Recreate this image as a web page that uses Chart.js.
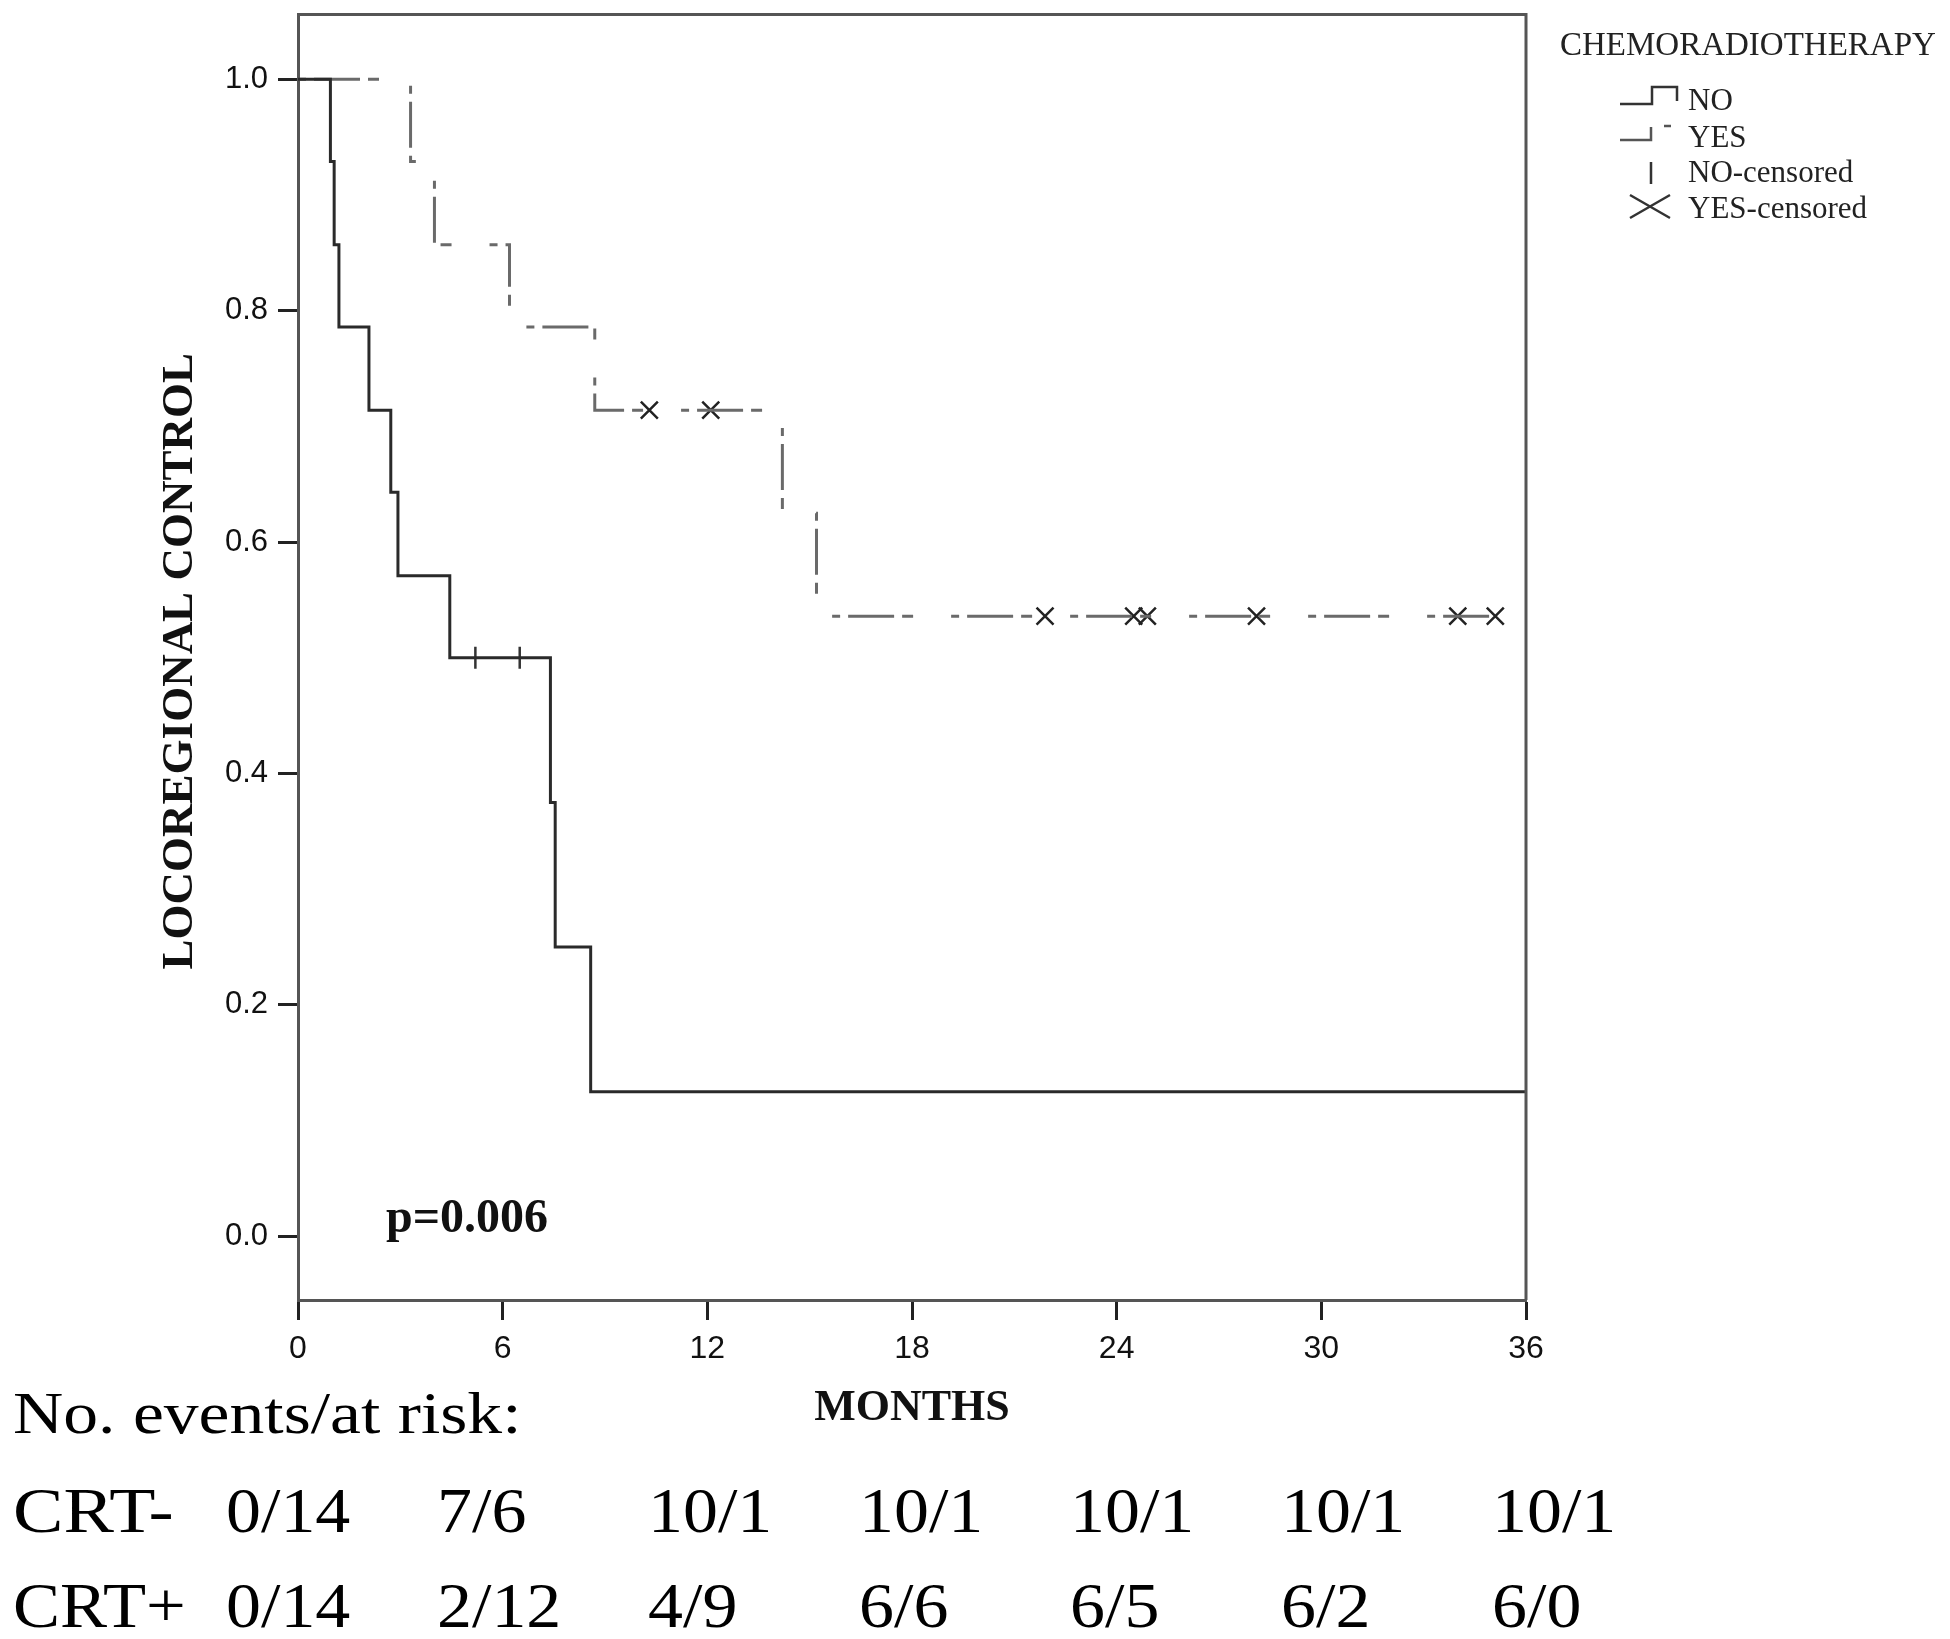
<!DOCTYPE html>
<html>
<head>
<meta charset="utf-8">
<script src="https://cdn.jsdelivr.net/npm/chart.js@4.4.1/dist/chart.umd.min.js"></script>
<style>
    body { margin: 0; background: #fff; }
    #wrap { width: 1950px; height: 1639px; }
</style>
</head>
<body>
<div id="wrap"><canvas id="km"></canvas></div>
<script>
// Kaplan-Meier curves (months / proportion)
const noTimes = [0, 0.95, 1.06, 1.2, 2.08, 2.72, 2.93, 4.45, 7.4, 7.54, 8.58, 36];
const noSurv = [1.0, 0.929, 0.857, 0.786, 0.714, 0.643, 0.571, 0.5, 0.375, 0.25, 0.125, 0.125];

const yesTimes = [0, 3.3, 4.0, 6.2, 8.7, 14.2, 15.2, 35.1];
const yesSurv = [1.0, 0.929, 0.857, 0.786, 0.714, 0.625, 0.536, 0.536];

const noCensTimes = [5.2, 6.5];
const noCensSurv = [0.5, 0.5];

const yesCensTimes = [10.3, 12.1, 21.9, 24.5, 24.9, 28.1, 34.0, 35.1];
const yesCensSurv = [0.714, 0.714, 0.536, 0.536, 0.536, 0.536, 0.536, 0.536];

const xTicks = [0, 6, 12, 18, 24, 30, 36];
const yTicks = [0, 0.2, 0.4, 0.6, 0.8, 1.0];

const riskRows = ["CRT-", "CRT+"];
const crtMinus = ["0/14", "7/6", "10/1", "10/1", "10/1", "10/1", "10/1"];
const crtPlus = ["0/14", "2/12", "4/9", "6/6", "6/5", "6/2", "6/0"];

const legendTitle = "CHEMORADIOTHERAPY";
const legendLabels = ["NO", "YES", "NO-censored", "YES-censored"];

const serif = "'Liberation Serif', 'Times New Roman', serif";
const sans = "'Liberation Sans', Arial, sans-serif";

function pts(xs, ys) {
    return xs.map((x, i) => ({ x: x, y: ys[i] }));
}

function wideText(ctx, text, x, y, sx) {
    ctx.save();
    ctx.translate(x, y);
    ctx.scale(sx, 1);
    ctx.fillText(text, 0, 0);
    ctx.restore();
}

function noPad(s) {
    s.paddingTop = 0;
    s.paddingBottom = 0;
    s.paddingLeft = 0;
    s.paddingRight = 0;
}

const extras = {
    id: "extras",
    afterDraw(chart) {
        const ctx = chart.ctx;
        const a = chart.chartArea;
        ctx.save();

        // top and right of the frame
        ctx.strokeStyle = "#555";
        ctx.lineWidth = 3;
        ctx.beginPath();
        ctx.moveTo(a.left, a.top);
        ctx.lineTo(a.right, a.top);
        ctx.lineTo(a.right, a.bottom);
        ctx.stroke();

        ctx.fillStyle = "#111";
        ctx.textBaseline = "alphabetic";

        // axis titles
        ctx.font = "bold 44px " + serif;
        ctx.textAlign = "center";
        ctx.fillText("MONTHS", (a.left + a.right) / 2, 1420);
        ctx.save();
        ctx.font = "bold 45px " + serif;
        ctx.translate(192, (a.top + a.bottom) / 2 + 4);
        ctx.rotate(-Math.PI / 2);
        ctx.fillText("LOCOREGIONAL CONTROL", 0, 0);
        ctx.restore();

        // p value
        ctx.textAlign = "left";
        ctx.font = "bold 48px " + serif;
        ctx.fillText("p=0.006", 386, 1232);

        // legend
        ctx.fillStyle = "#222";
        ctx.font = "33px " + serif;
        ctx.fillText(legendTitle, 1560, 55);
        ctx.font = "31px " + serif;
        const ly = [110, 147, 182, 218];
        legendLabels.forEach((t, i) => ctx.fillText(t, 1688, ly[i]));

        ctx.lineWidth = 2.5;
        ctx.strokeStyle = "#333";
        ctx.beginPath();
        ctx.moveTo(1620, 104); ctx.lineTo(1652, 104); ctx.lineTo(1652, 87);
        ctx.lineTo(1677, 87); ctx.lineTo(1677, 101);
        ctx.stroke();
        ctx.strokeStyle = "#555";
        ctx.beginPath();
        ctx.moveTo(1620, 140); ctx.lineTo(1651, 140); ctx.lineTo(1651, 127);
        ctx.moveTo(1664, 126); ctx.lineTo(1671, 126);
        ctx.stroke();
        ctx.strokeStyle = "#333";
        ctx.beginPath();
        ctx.moveTo(1651, 162); ctx.lineTo(1651, 184);
        ctx.moveTo(1630, 195); ctx.lineTo(1670, 218);
        ctx.moveTo(1630, 218); ctx.lineTo(1670, 195);
        ctx.stroke();

        // numbers at risk
        ctx.fillStyle = "#000";
        ctx.font = "59px " + serif;
        wideText(ctx, "No. events/at risk:", 13, 1433, 1.18);
        ctx.font = "63px " + serif;
        [crtMinus, crtPlus].forEach((row, r) => {
            const y = r === 0 ? 1532 : 1627;
            wideText(ctx, riskRows[r], 13, y, r === 0 ? 1.2 : 1.12);
            row.forEach((v, i) => wideText(ctx, v, 226 + i * 211, y, 1.11));
        });

        ctx.restore();
    },
};

new Chart(document.getElementById("km"), {
    type: "line",
    data: {
        datasets: [
            {
                label: "NO",
                data: pts(noTimes, noSurv),
                stepped: true,
                borderColor: "#2a2a2a",
                borderWidth: 3,
                pointRadius: 0,
                fill: false,
            },
            {
                label: "YES",
                data: pts(yesTimes, yesSurv),
                stepped: true,
                borderColor: "#6a6a6a",
                borderWidth: 3,
                borderDash: [8, 8, 46, 8, 11, 38],
                pointRadius: 0,
                fill: false,
            },
            {
                label: "NO-censored",
                data: pts(noCensTimes, noCensSurv),
                showLine: false,
                pointStyle: "line",
                rotation: 90,
                pointRadius: 11,
                pointBorderWidth: 2.5,
                pointBorderColor: "#333",
            },
            {
                label: "YES-censored",
                data: pts(yesCensTimes, yesCensSurv),
                showLine: false,
                pointStyle: "crossRot",
                pointRadius: 12,
                pointBorderWidth: 2.5,
                pointBorderColor: "#222",
            },
        ],
    },
    options: {
        responsive: true,
        maintainAspectRatio: false,
        animation: false,
        events: [],
        layout: { padding: { top: 7, right: 424, left: 0, bottom: 0 } },
        scales: {
            x: {
                type: "linear",
                min: 0,
                max: 36,
                afterBuildTicks: (s) => { s.ticks = xTicks.map((v) => ({ value: v })); },
                afterFit: (s) => { s.height = 339; noPad(s); },
                grid: { drawOnChartArea: false, tickLength: 20, tickWidth: 3, tickColor: "#222" },
                border: { color: "#555", width: 3 },
                ticks: {
                    font: { family: sans, size: 32 },
                    color: "#111",
                    padding: 10,
                    maxRotation: 0,
                },
            },
            y: {
                min: -0.055,
                max: 1.056,
                afterBuildTicks: (s) => { s.ticks = yTicks.map((v) => ({ value: v })); },
                afterFit: (s) => { s.width = 298; noPad(s); },
                grid: { drawOnChartArea: false, tickLength: 20, tickWidth: 3, tickColor: "#222" },
                border: { color: "#555", width: 3 },
                ticks: {
                    font: { family: sans, size: 31 },
                    color: "#111",
                    padding: 10,
                    callback: (v) => v.toFixed(1),
                },
            },
        },
        plugins: {
            legend: { display: false },
            tooltip: { enabled: false },
        },
    },
    plugins: [extras],
});
</script>
</body>
</html>
